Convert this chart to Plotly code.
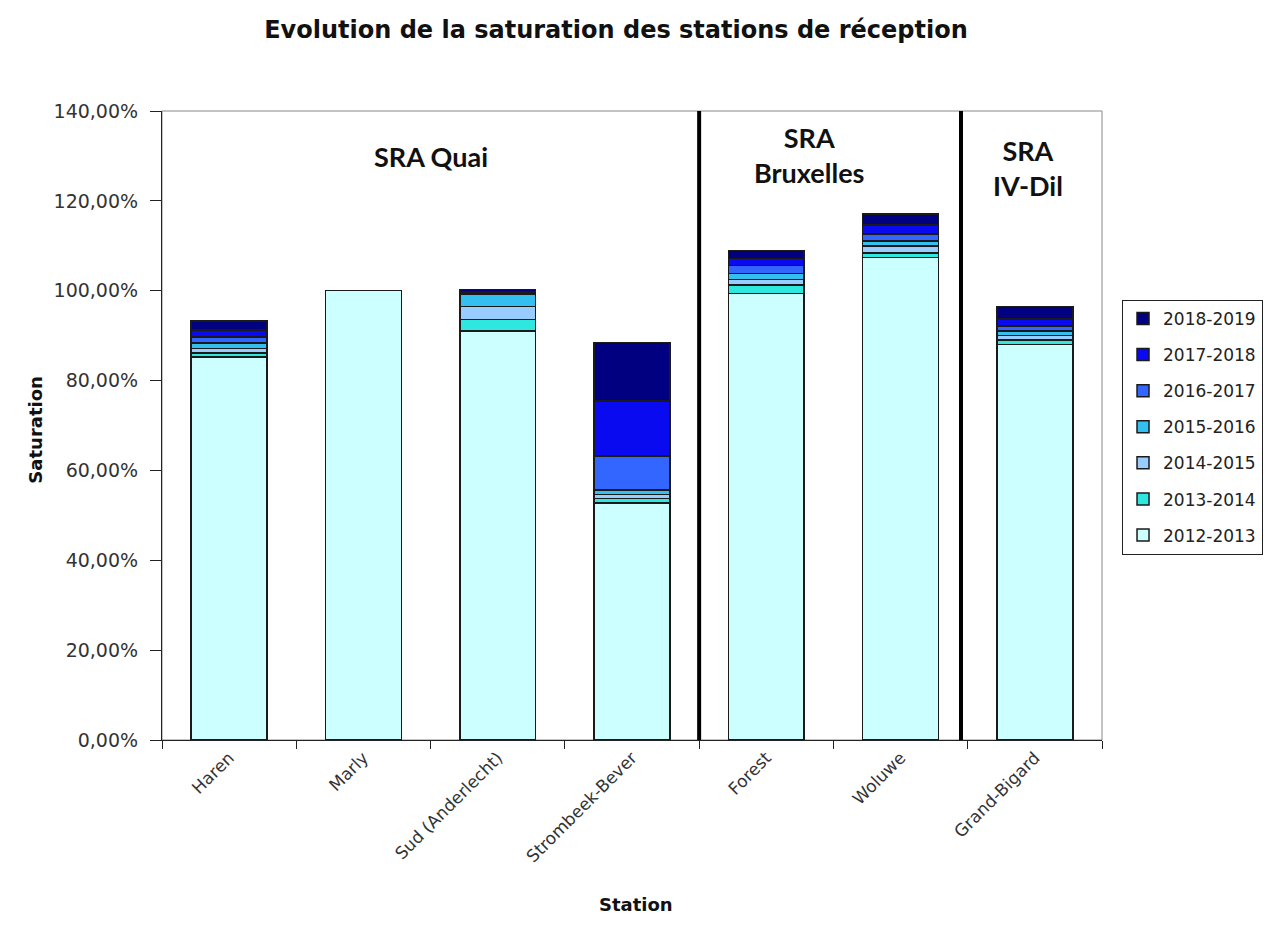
import plotly.graph_objects as go

stations = ["Haren", "Marly", "Sud (Anderlecht)", "Strombeek-Bever", "Forest", "Woluwe", "Grand-Bigard"]
years = ["2012-2013", "2013-2014", "2014-2015", "2015-2016", "2016-2017", "2017-2018", "2018-2019"]

# stacked increments (percent)
s_2012_2013 = [85.2, 100.0, 91.0, 52.7, 99.4, 107.4, 88.0]
s_2013_2014 = [0.9, 0.0, 2.6, 1.0, 1.85, 1.0, 1.0]
s_2014_2015 = [1.0, 0.0, 2.9, 0.9, 1.3, 1.5, 1.0]
s_2015_2016 = [1.3, 0.0, 2.7, 1.0, 1.3, 1.2, 1.0]
s_2016_2017 = [1.3, 0.0, 0.3, 7.6, 1.8, 1.5, 1.2]
s_2017_2018 = [1.6, 0.0, 0.3, 12.3, 1.5, 2.0, 1.5]
s_2018_2019 = [2.0, 0.0, 0.5, 13.0, 1.8, 2.5, 2.8]
series = [s_2012_2013, s_2013_2014, s_2014_2015, s_2015_2016, s_2016_2017, s_2017_2018, s_2018_2019]

colors = ["#CCFFFF", "#2EE8E0", "#99CCFF", "#33C0F0", "#3366FF", "#0A0AF0", "#000080"]

y_ticks = [0, 20, 40, 60, 80, 100, 120, 140]
y_tick_text = ["0,00%", "20,00%", "40,00%", "60,00%", "80,00%", "100,00%", "120,00%", "140,00%"]

fig = go.Figure()
for i, (yr, vals, col) in enumerate(zip(years, series, colors)):
    fig.add_trace(go.Bar(
        x=stations, y=vals, name=yr,
        marker=dict(color=col, line=dict(color="#1a1a1a", width=1.5)),
        legendgroup=yr, legendrank=100 - i,
    ))

fig.update_layout(
    barmode="stack",
    bargap=0.435,
    width=1274, height=931,
    margin=dict(l=162, r=171, t=111, b=191),
    paper_bgcolor="white", plot_bgcolor="white",
    font=dict(family="DejaVu Sans", size=14, color="#222"),
    title=dict(text="<b>Evolution de la saturation des stations de réception</b>",
               x=616 / 1274, xanchor="center", y=1 - 30 / 931, yanchor="middle",
               font=dict(family="DejaVu Sans", size=24, color="#111")),
    legend=dict(x=1.02, y=0.70, xanchor="left", yanchor="top",
                traceorder="grouped", tracegroupgap=11,
                bordercolor="#222", borderwidth=1.2, bgcolor="white",
                font=dict(family="DejaVu Sans", size=17, color="#222"),
                itemwidth=30),
    showlegend=True,
)

fig.update_xaxes(
    showline=True, linecolor="#222", linewidth=1.2,
    ticks="outside", tickson="boundaries", ticklen=8, tickcolor="#222",
    tickangle=-45, tickfont=dict(family="DejaVu Sans", size=17, color="#333"),
    showgrid=False,
)
fig.update_yaxes(
    range=[0, 140], tickvals=y_ticks, ticktext=y_tick_text,
    showline=True, linecolor="#222", linewidth=1.2,
    ticks="outside", ticklen=11, tickcolor="#222",
    ticklabelstandoff=8,
    tickfont=dict(family="DejaVu Sans", size=19, color="#333"),
    showgrid=False, zeroline=False,
)

# plot frame (top/right)
fig.add_shape(type="rect", xref="paper", yref="paper", x0=0, x1=1, y0=0, y1=1,
              line=dict(color="#888", width=1), layer="below")

# group separators
for xs in [3.5, 5.45]:
    fig.add_shape(type="line", xref="x", yref="paper", x0=xs, x1=xs, y0=0, y1=1,
                  line=dict(color="black", width=4))

grp_font = dict(family="Lato", size=27, color="#111")
fig.add_annotation(x=1.5, y=129.8, xref="x", yref="y", text="<b>SRA Quai</b>",
                   showarrow=False, font=grp_font)
fig.add_annotation(x=4.32, y=130.3, xref="x", yref="y", text="<b>SRA<br>Bruxelles</b>",
                   showarrow=False, font=grp_font)
fig.add_annotation(x=5.95, y=127.3, xref="x", yref="y", text="<b>SRA<br>IV-Dil</b>",
                   showarrow=False, font=grp_font)

fig.add_annotation(x=(22 - 162) / 941, y=(740 - 430) / 629, xref="paper", yref="paper",
                   text="<b>Saturation</b>", textangle=-90, showarrow=False,
                   font=dict(family="DejaVu Sans", size=18, color="#111"))
fig.add_annotation(x=(637 - 162) / 941, y=(740 - 917) / 629, xref="paper", yref="paper",
                   text="<b>Station</b>", showarrow=False,
                   font=dict(family="DejaVu Sans", size=18, color="#111"))

fig.write_html("out.html")
